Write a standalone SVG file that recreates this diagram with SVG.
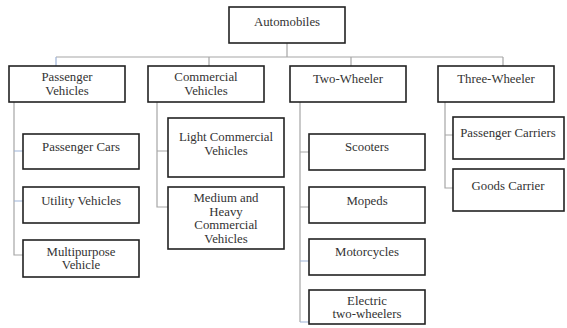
<svg xmlns="http://www.w3.org/2000/svg" width="567" height="328" viewBox="0 0 567 328">
<style>
.box{fill:#fff;stroke:#222;stroke-width:1.6}
text{font-family:'Liberation Serif','Times New Roman',serif;font-size:12.8px;fill:#333;text-anchor:middle}
.c{fill:none;stroke:#a6a6a6;stroke-width:1.2}
.b{fill:none;stroke:#9db3d8;stroke-width:1.2}
</style>
<rect width="567" height="328" fill="#fff"/>
<g id="connectors">
<path class="c" d="M287 43V57M56 57H503M209 57V66M351 57V66M503 57V66"/>
<path class="b" d="M56 57V66"/>
<path class="c" d="M14 102V255H23"/>
<path class="b" d="M14 151H23M14 201H23"/>
<path class="c" d="M157 102V207H168M157 151H168"/>
<path class="c" d="M300 102V322M300 152H309M300 207H309"/>
<path class="b" d="M300 261H309M300 322H309"/>
<path class="c" d="M445 102V188H453M445 135H453"/>
</g>
<g id="automobiles"><rect class="box" x="229" y="7" width="116" height="36"/><text x="287" y="26">Automobiles</text></g>
<g id="passenger-vehicles"><rect class="box" x="9" y="66" width="116" height="36"/><text x="67" y="81">Passenger</text><text x="67" y="95">Vehicles</text></g>
<g id="commercial-vehicles"><rect class="box" x="148" y="66" width="116" height="36"/><text x="206" y="81">Commercial</text><text x="206" y="95">Vehicles</text></g>
<g id="two-wheeler"><rect class="box" x="290" y="66" width="116" height="36"/><text x="348" y="83">Two-Wheeler</text></g>
<g id="three-wheeler"><rect class="box" x="438" y="66" width="116" height="36"/><text x="496" y="83">Three-Wheeler</text></g>
<g id="passenger-cars"><rect class="box" x="23" y="134" width="116" height="35"/><text x="81" y="151">Passenger Cars</text></g>
<g id="utility-vehicles"><rect class="box" x="23" y="187" width="116" height="36"/><text x="81" y="205">Utility Vehicles</text></g>
<g id="multipurpose-vehicle"><rect class="box" x="23" y="240" width="116" height="37"/><text x="81" y="256">Multipurpose</text><text x="81" y="269">Vehicle</text></g>
<g id="light-commercial"><rect class="box" x="168" y="118" width="116" height="59"/><text x="226" y="141">Light Commercial</text><text x="226" y="155">Vehicles</text></g>
<g id="medium-heavy"><rect class="box" x="168" y="187" width="116" height="62"/><text x="226" y="202">Medium and</text><text x="226" y="216">Heavy</text><text x="226" y="229">Commercial</text><text x="226" y="243">Vehicles</text></g>
<g id="scooters"><rect class="box" x="309" y="134" width="116" height="36"/><text x="367" y="151">Scooters</text></g>
<g id="mopeds"><rect class="box" x="309" y="187" width="116" height="36"/><text x="367" y="205">Mopeds</text></g>
<g id="motorcycles"><rect class="box" x="309" y="239" width="116" height="36"/><text x="367" y="256">Motorcycles</text></g>
<g id="electric"><rect class="box" x="309" y="290" width="116" height="34"/><text x="367" y="305">Electric</text><text x="367" y="318">two-wheelers</text></g>
<g id="passenger-carriers"><rect class="box" x="453" y="117" width="111" height="42"/><text x="508" y="137">Passenger Carriers</text></g>
<g id="goods-carrier"><rect class="box" x="453" y="169" width="111" height="42"/><text x="508" y="190">Goods Carrier</text></g>
</svg>
